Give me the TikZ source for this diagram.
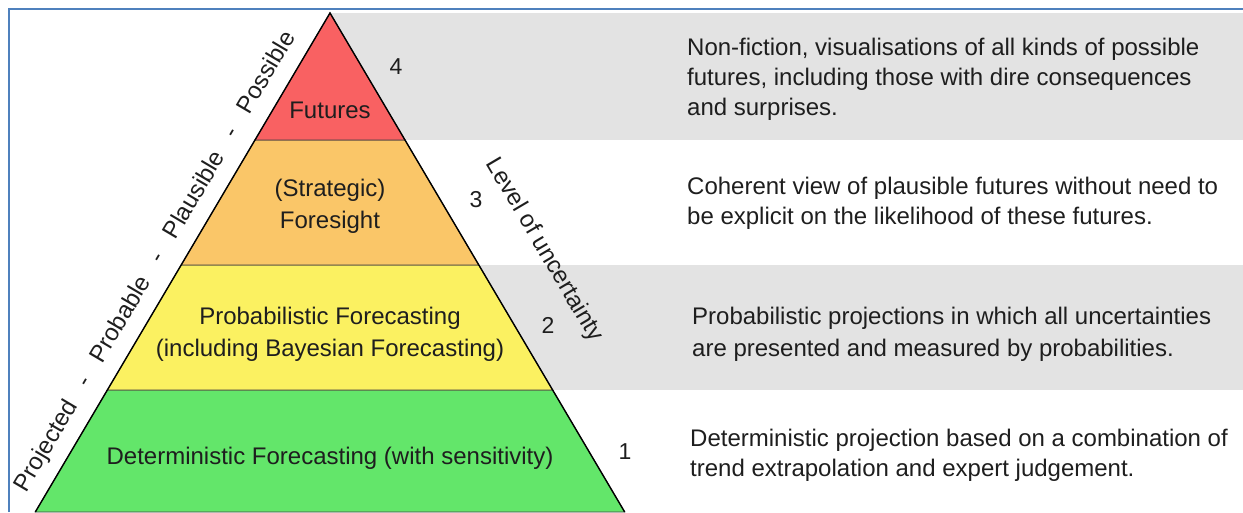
\documentclass[tikz,border=0pt]{standalone}
\usepackage{fontspec}
\setmainfont{Liberation Sans}
\usepackage{xcolor}
\usetikzlibrary{
    calc,
    positioning
}
\definecolor{tierred}{RGB}{249,97,98}
\definecolor{tierorange}{RGB}{250,198,104}
\definecolor{tieryellow}{RGB}{251,241,97}
\definecolor{tiergreen}{RGB}{99,230,106}
\definecolor{bandgray}{RGB}{227,227,227}
\definecolor{frameblue}{RGB}{79,129,189}
\definecolor{inkgray}{RGB}{30,30,30}
\tikzset{
    tier/.style={fill=#1, draw=black!75, line width=0.8pt},
    tiertext/.style={text=inkgray, align=center, inner sep=0pt, font=\fontsize{24}{32}\selectfont},
    desc/.style={text=inkgray, align=left, anchor=west, inner sep=0pt, font=\fontsize{24}{30}\selectfont},
    levelno/.style={text=inkgray, inner sep=0pt, font=\fontsize{23}{28}\selectfont},
    sidelabel/.style={text=inkgray, inner sep=0pt, font=\fontsize{24}{28}\selectfont}
}

\begin{document}
\begin{tikzpicture}[x=1pt,y=-1pt]
                        \useasboundingbox (0,0) rectangle (1243,512);

                        \fill[bandgray] (330,13) rectangle (1243,140);
                        \fill[bandgray] (330,265) rectangle (1243,390);

                        \coordinate (apex) at (330,13);
                        \coordinate (l4) at (255,140);
                        \coordinate (r4) at (405,140);
                        \coordinate (l3) at (181.2,265);
                        \coordinate (r3) at (478.8,265);
                        \coordinate (l2) at (107.4,390);
                        \coordinate (r2) at (552.6,390);
                        \coordinate (l1) at (35.3,512);
                        \coordinate (r1) at (624.7,512);

                        \filldraw[tier=tiergreen] (l2) -- (r2) -- (r1) -- (l1) -- cycle;
                        \filldraw[tier=tieryellow] (l3) -- (r3) -- (r2) -- (l2) -- cycle;
                        \filldraw[tier=tierorange] (l4) -- (r4) -- (r3) -- (l3) -- cycle;
                        \filldraw[tier=tierred] (apex) -- (r4) -- (l4) -- cycle;
                        \draw[black, line width=1.4pt] (l1) -- (apex) -- (r1);

                        \node[tiertext] (t4) at (330,110) {Futures};
                        \node[tiertext] (t3) at (330,206) {(Strategic)\\Foresight};
                        \node[tiertext] (t2) at (330,334) {Probabilistic Forecasting\\(including Bayesian Forecasting)};
                        \node[tiertext] (t1) at (330,458) {Deterministic Forecasting (with sensitivity)};

                        \node[levelno] (n4) at (396,67) {4};
                        \node[levelno] (n3) at (476,200) {3};
                        \node[levelno] (n2) at (548,325) {2};
                        \node[levelno] (n1) at (625,452) {1};

                        \node[sidelabel, rotate=59.44] (scale) at (156,262) {Projected\hspace{20pt}-\hspace{20pt}Probable\hspace{20pt}-\hspace{20pt}Plausible\hspace{20pt}-\hspace{20pt}Possible};
                        \node[sidelabel, rotate=-59.44] (level) at (544,250) {Level of uncertainty};

                        \node[desc] (d4) at (687,79) {Non-fiction, visualisations of all kinds of possible\\futures, including those with dire consequences\\and surprises.};
                        \node[desc] (d3) at (687,203) {Coherent view of plausible futures without need to\\be explicit on the likelihood of these futures.};
                        \node[desc, font=\fontsize{24}{32}\selectfont] (d2) at (692,334) {Probabilistic projections in which all uncertainties\\are presented and measured by probabilities.};
                        \node[desc] (d1) at (690,455) {Deterministic projection based on a combination of\\trend extrapolation and expert judgement.};

                        \draw[frameblue, line width=2pt] (9,512) -- (9,9) -- (1243,9);
                    \end{tikzpicture}
\end{document}
